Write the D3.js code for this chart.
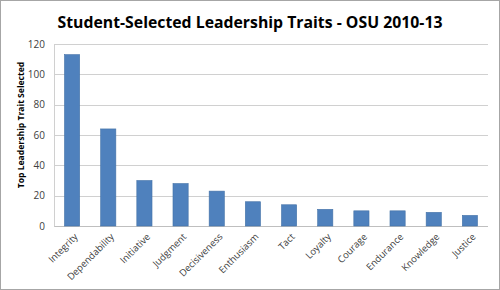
<!DOCTYPE html>
<html>
<head>
<meta charset="utf-8">
<script src="https://cdn.jsdelivr.net/npm/d3@7"></script>
<style>
  body { margin: 0; background: #fff; }
  svg { display: block; }
</style>
</head>
<body>
<div id="chart"></div>
<script>
// data
var traits = ["Integrity", "Dependability", "Initiative", "Judgment", "Decisiveness", "Enthusiasm",
              "Tact", "Loyalty", "Courage", "Endurance", "Knowledge", "Justice"];
var counts = [113, 64, 30, 28, 23, 16, 14, 11, 10, 10, 9, 7];
var yTicks = [0, 20, 40, 60, 80, 100, 120];

var W = 500, H = 290;
var margin = {top: 44, right: 12, bottom: 64, left: 54},
    width = W - margin.left - margin.right,
    height = H - margin.top - margin.bottom;

var root = d3.select("#chart").append("svg")
    .attr("width", W)
    .attr("height", H);

// outer frame
root.append("rect")
    .attr("x", 0.5).attr("y", 0.5)
    .attr("width", W - 1).attr("height", H - 1)
    .style("fill", "#fff")
    .style("stroke", "#a6a6a6");

var svg = root.append("g")
    .attr("transform", "translate(" + margin.left + "," + margin.top + ")");

var x = d3.scaleBand()
    .domain(traits)
    .range([0, width])
    .paddingInner(0.58)
    .paddingOuter(0.29);

var y = d3.scaleLinear()
    .domain([0, 120])
    .range([height, 0]);

// gridlines
svg.selectAll(".grid")
    .data(yTicks)
    .enter()
    .append("line")
    .attr("x1", 0).attr("x2", width)
    .attr("y1", function(d) { return Math.round(y(d)) + 0.5; })
    .attr("y2", function(d) { return Math.round(y(d)) + 0.5; })
    .style("stroke", function(d) { return d === 0 ? "#bfbfbf" : "#d0d0d0"; })
    .style("stroke-width", 1);

// left edge of plot
svg.append("line")
    .attr("x1", 0.5).attr("x2", 0.5)
    .attr("y1", Math.round(y(120)) + 0.5).attr("y2", Math.round(y(0)) + 0.5)
    .style("stroke", "#d0d0d0");

// bars
svg.selectAll(".bar")
    .data(counts)
    .enter()
    .append("rect")
    .attr("x", function(d, i) { return x(traits[i]); })
    .attr("y", function(d) { return y(d); })
    .attr("width", x.bandwidth())
    .attr("height", function(d) { return y(0) - y(d); })
    .style("fill", "#4f81bd")
    .style("stroke", "#4572a7")
    .style("stroke-width", 0.6);

// y axis
var yAxis = svg.append("g")
    .call(d3.axisLeft(y).tickValues(yTicks).tickSize(0).tickPadding(9));
yAxis.select(".domain").remove();
yAxis.selectAll("text")
    .style("font-family", "'Open Sans', 'Liberation Sans', sans-serif")
    .style("font-size", "10px")
    .style("fill", "#404040");

// x axis
var xAxis = svg.append("g")
    .attr("transform", "translate(0," + height + ")")
    .call(d3.axisBottom(x).tickSize(0));
xAxis.select(".domain").remove();
xAxis.selectAll("text")
    .style("font-family", "'Open Sans', 'Liberation Sans', sans-serif")
    .style("font-size", "9.5px")
    .style("fill", "#404040")
    .style("text-anchor", "end")
    .attr("x", 0)
    .attr("y", 0)
    .attr("dy", "0.35em")
    .attr("transform", "translate(4,9) rotate(-45)");

// title
root.append("text")
    .attr("x", 250)
    .attr("y", 28)
    .attr("text-anchor", "middle")
    .style("font-family", "'Open Sans', 'Liberation Sans', sans-serif")
    .style("font-weight", "bold")
    .style("font-size", "15.8px")
    .style("fill", "#000")
    .text("Student-Selected Leadership Traits - OSU 2010-13");

// y axis title
root.append("text")
    .attr("transform", "translate(21,125) rotate(-90)")
    .attr("text-anchor", "middle")
    .attr("dy", "0.35em")
    .style("font-family", "'Open Sans', 'Liberation Sans', sans-serif")
    .style("font-weight", "bold")
    .style("font-size", "8.6px")
    .style("fill", "#000")
    .text("Top Leadership Trait Selected");
</script>
</body>
</html>
